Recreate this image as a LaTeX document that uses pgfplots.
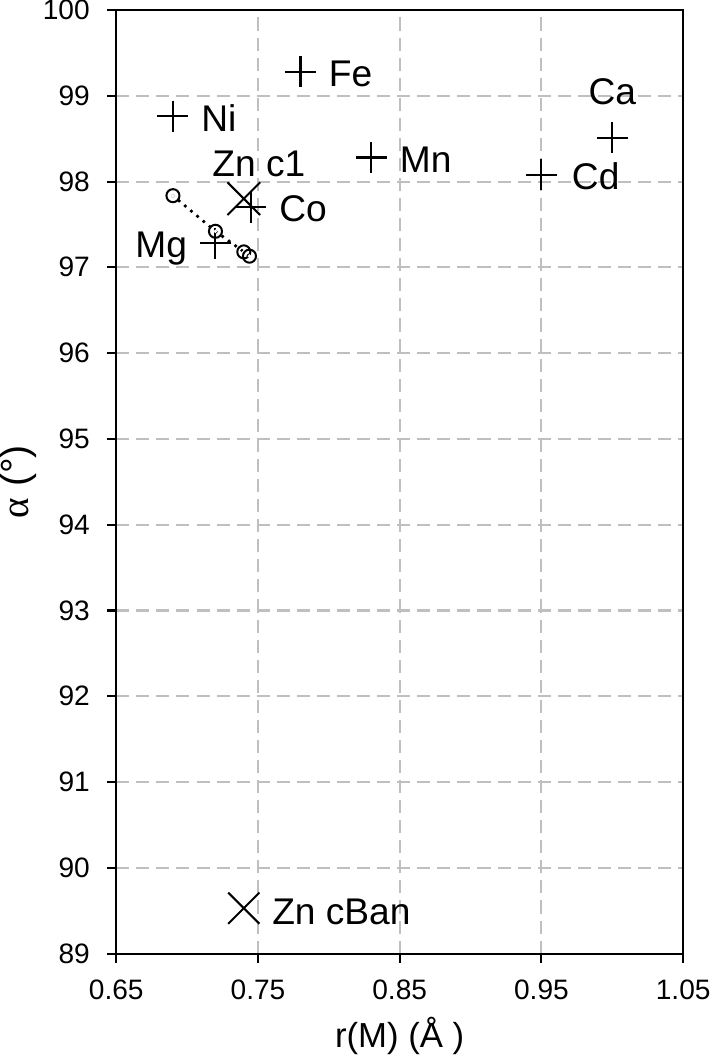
\documentclass[border=0pt]{standalone}
\usepackage{fontspec}
\setmainfont{Liberation Sans}
\newfontfamily\greekserif{Liberation Serif}
\usepackage{pgfplots}
\pgfplotsset{compat=1.18}
\pgfdeclareplotmark{odot}{%
  \pgfpathcircle{\pgfpointorigin}{\pgfplotmarksize}\pgfusepathqstroke
  \pgfpathcircle{\pgfpointorigin}{0.3\pgfplotmarksize}\pgfusepathqfill}
\begin{document}
\begin{tikzpicture}
\begin{axis}[
  scale only axis, width=282.5pt, height=470.25pt,
  xmin=0.65, xmax=1.05, ymin=89, ymax=100,
  xtick={0.65,0.75,0.85,0.95,1.05}, ytick={89,90,...,100},
  xticklabel style={/pgf/number format/fixed,/pgf/number format/precision=2,/pgf/number format/fixed zerofill},
  tick align=outside, xtick pos=bottom, ytick pos=left,
  major tick length=4.5pt,
  axis line style={line width=1pt},
  every tick/.style={black, line width=1pt},
  grid=major,
  major grid style={black!25, line width=1pt, dash pattern=on 6.5pt off 3.5pt},
  tick label style={font=\fontsize{14}{16}\selectfont, inner sep=0pt},
  xticklabel shift=8.5pt, yticklabel shift=8.5pt,
  /pgf/number format/assume math mode=true,
  xlabel={r(M) (Å )}, ylabel={{\greekserif α} (°)},
  xlabel style={font=\fontsize{17.3}{20}\selectfont, inner sep=0pt},
  ylabel style={font=\fontsize{19.5}{22}\selectfont, inner sep=0pt},
  xlabel shift=8.5pt, ylabel shift=3pt,
  clip=false,
]
% Plus markers
\addplot[only marks, mark=+, mark size=7.75pt, line width=1pt, black] coordinates {
  (0.69,98.76) (0.78,99.28) (0.83,98.28) (1.00,98.51) (0.95,98.08) (0.745,97.70) (0.72,97.28)
};
% X markers
\addplot[only marks, mark=x, mark size=11.5pt, line width=1pt, black] coordinates {
  (0.74,97.80)
};
\addplot[only marks, mark=x, mark size=11pt, line width=1pt, black] coordinates {
  (0.74,89.53)
};
% dotted series
\addplot[black, line width=1.9pt, dash pattern=on 0pt off 4pt, line cap=round,
  mark=odot, mark size=3.25pt, mark options={solid, line width=1pt, fill=white}] coordinates {
  (0.69,97.835) (0.72,97.42) (0.74,97.18) (0.744,97.13)
};
\begin{scope}[every node/.style={font=\fontsize{18.5}{22}\selectfont, inner sep=0pt}]
\node[anchor=base west, xshift=14pt, yshift=-7.5pt] at (axis cs:0.69,98.76) {Ni};
\node[anchor=base west, xshift=14pt, yshift=-7.5pt] at (axis cs:0.78,99.28) {Fe};
\node[anchor=base west, xshift=14pt, yshift=-7.5pt] at (axis cs:0.83,98.28) {Mn};
\node[anchor=base west, xshift=14pt, yshift=-7pt] at (axis cs:0.745,97.70) {Co};
\node[anchor=base west, xshift=15pt, yshift=-7.5pt] at (axis cs:0.95,98.08) {Cd};
\node[anchor=base west, xshift=14pt, yshift=-8pt] at (axis cs:0.74,89.53) {Zn cBan};
\node[anchor=base east, xshift=-14pt, yshift=-7pt] at (axis cs:0.72,97.28) {Mg};
\node[anchor=base, yshift=16.5pt] at (axis cs:1.00,98.51) {Ca};
\node[anchor=base, xshift=7.5pt, yshift=11pt] at (axis cs:0.74,97.80) {Zn c1};
\end{scope}
\end{axis}
\end{tikzpicture}
\end{document}
